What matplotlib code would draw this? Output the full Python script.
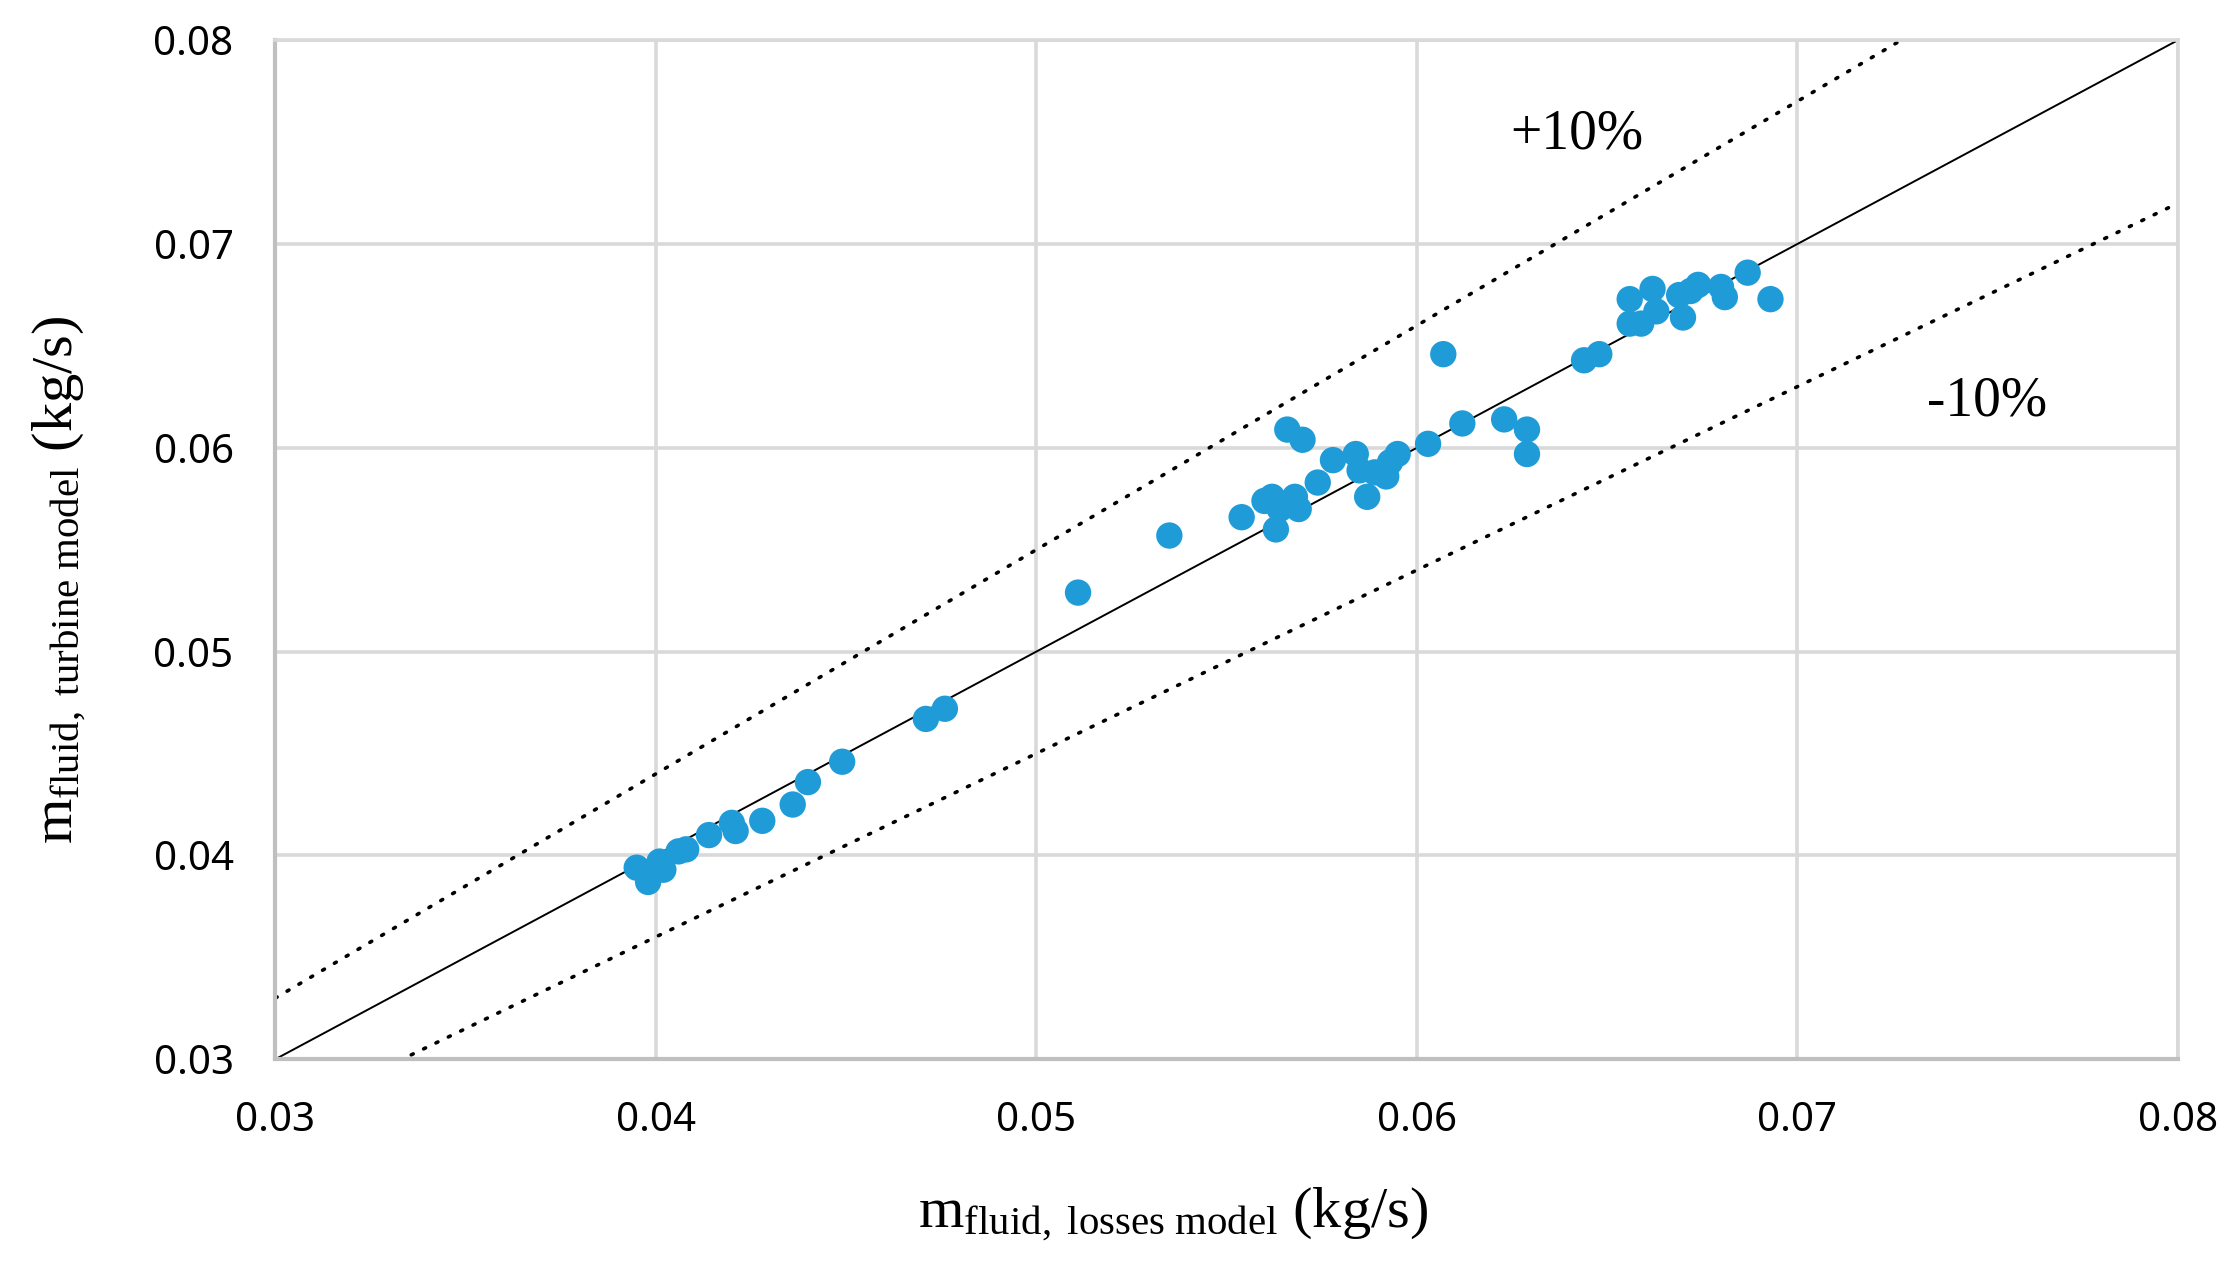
import numpy as np
import matplotlib
matplotlib.use("Agg")
import matplotlib.pyplot as plt

# mass flow (kg/s)
m_losses = [0.0395, 0.0398, 0.0401, 0.0402, 0.0406, 0.0408, 0.0414, 0.0420, 0.0421,
            0.0428, 0.0436, 0.0440, 0.0449, 0.0471, 0.0476, 0.0511, 0.0535, 0.0554,
            0.0560, 0.0562, 0.0563, 0.0564, 0.0566, 0.0568, 0.0569, 0.0570, 0.0574,
            0.0578, 0.0584, 0.0585, 0.0587, 0.0589, 0.0592, 0.0593, 0.0595, 0.0603,
            0.0607, 0.0612, 0.0623, 0.0629, 0.0629, 0.0644, 0.0648, 0.0656, 0.0656,
            0.0659, 0.0662, 0.0663, 0.0669, 0.0670, 0.0672, 0.0674, 0.0680, 0.0681,
            0.0687, 0.0693]
m_turbine = [0.0394, 0.0387, 0.0397, 0.0393, 0.0402, 0.0403, 0.0410, 0.0416, 0.0412,
             0.0417, 0.0425, 0.0436, 0.0446, 0.0467, 0.0472, 0.0529, 0.0557, 0.0566,
             0.0574, 0.0576, 0.0560, 0.0570, 0.0609, 0.0576, 0.0570, 0.0604, 0.0583,
             0.0594, 0.0597, 0.0589, 0.0576, 0.0588, 0.0586, 0.0593, 0.0597, 0.0602,
             0.0646, 0.0612, 0.0614, 0.0609, 0.0597, 0.0643, 0.0646, 0.0673, 0.0661,
             0.0661, 0.0678, 0.0667, 0.0675, 0.0664, 0.0677, 0.0680, 0.0679, 0.0674,
             0.0686, 0.0673]

ticks = [0.03, 0.04, 0.05, 0.06, 0.07, 0.08]
tick_labels = ["0.03", "0.04", "0.05", "0.06", "0.07", "0.08"]
band = 0.10

plt.rcParams['mathtext.fontset'] = 'custom'
plt.rcParams['mathtext.rm'] = 'Liberation Serif'
plt.rcParams['mathtext.it'] = 'Liberation Serif:italic'

fig = plt.figure(figsize=(22.38, 12.61), dpi=100)
ax = fig.add_axes([0.123, 0.16, 0.850, 0.808])

x_line = np.array([0.03, 0.08])
ax.plot(x_line, x_line, color="black", lw=1.4, zorder=2)
ax.plot(x_line, x_line * (1 + band), color="black", lw=2.6, ls=(0, (0.6, 3.2)),
        dash_capstyle="round", zorder=2)
ax.plot(x_line, x_line * (1 - band), color="black", lw=2.6, ls=(0, (0.6, 3.2)),
        dash_capstyle="round", zorder=2)

ax.scatter(m_losses, m_turbine, s=360, color="#1F9CD8", edgecolors="none", zorder=3)

ax.text(0.0642, 0.0754, "+10%", fontsize=40, family="Liberation Serif",
        ha="center", va="center")
ax.text(0.0750, 0.0623, "-10%", fontsize=40, family="Liberation Serif",
        ha="center", va="center")

ax.set_xlim(0.03, 0.08)
ax.set_ylim(0.03, 0.08)
ax.set_xticks(ticks)
ax.set_xticklabels(tick_labels)
ax.set_yticks(ticks)
ax.set_yticklabels(tick_labels)
ax.tick_params(axis="x", length=0, labelsize=29, pad=30)
ax.tick_params(axis="y", length=0, labelsize=29, pad=30)
for lab in ax.get_xticklabels() + ax.get_yticklabels():
    lab.set_family("Noto Sans")

ax.grid(True, color="#D9D9D9", lw=2.6, zorder=0)
ax.set_axisbelow(True)
for side in ["top", "right"]:
    ax.spines[side].set_color("#D9D9D9")
    ax.spines[side].set_linewidth(2.6)
for side in ["left", "bottom"]:
    ax.spines[side].set_color("#BFBFBF")
    ax.spines[side].set_linewidth(3)

ax.set_xlabel(r"$\mathrm{m_{fluid,\ losses\ model}}$ (kg/s)", fontsize=42,
              family="Liberation Serif", va="center")
ax.set_ylabel(r"$\mathrm{m_{fluid,\ turbine\ model}}$ (kg/s)", fontsize=42,
              family="Liberation Serif", va="center")
ax.xaxis.set_label_coords(0.472, -0.153)
ax.yaxis.set_label_coords(-0.113, 0.47)

fig.savefig("out.png", dpi=100, facecolor="white")
